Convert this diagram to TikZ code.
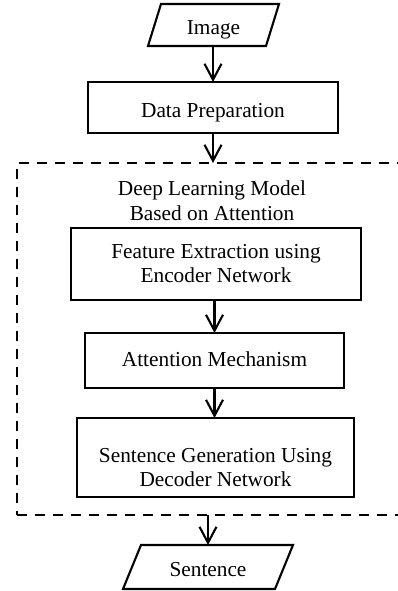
\documentclass[tikz,border=0pt]{standalone}
\usepackage{fontspec}
\setmainfont{Liberation Serif}
\usetikzlibrary{arrows.meta}
\newcommand{\placetxt}[2]{\raisebox{#1}[0pt][0pt]{#2}}
\newcommand{\twolines}[3]{\raisebox{#1}[0pt][0pt]{\begin{tabular}[t]{@{}c@{}}#2\\#3\end{tabular}}}
\begin{document}
\begin{tikzpicture}[x=1pt,y=-1pt,
  every node/.style={font=\fontsize{21.3}{24.4}\selectfont, inner sep=0pt, outer sep=0pt},
  boxst/.style={draw, line width=2.1pt, rectangle, align=center},
  iobase/.style={rectangle},
  iost/.style={draw, line width=2.1pt, line join=miter},
  arr/.style={line width=2.1pt, -{Straight Barb[length=16pt,width=17pt,line width=2.1pt]}},
  dashst/.style={draw, line width=2.1pt, dash pattern=on 10pt off 8pt}]
\useasboundingbox (0,0) rectangle (398,591);
\node[iobase, minimum width=131pt, minimum height=42pt] (img) at (213.5,25) {\placetxt{-10pt}{Image}};
\draw[iost] ([xshift=13pt]img.north west) -- (img.north east) -- ([xshift=-13pt]img.south east) -- (img.south west) -- cycle;
\node[boxst, minimum width=250pt, minimum height=51pt] (prep) at (213,107.5) {\placetxt{-9.8pt}{Data Preparation}};
\begin{scope}
\clip (0,0) rectangle (398,591);
\node[dashst, minimum width=388pt, minimum height=352pt] (model) at (211,339) {};
\end{scope}
\node (lbl) at (212,195) {\fontsize{21.3}{25}\selectfont\twolines{0pt}{Deep Learning Model}{Based on Attention}};
\node[boxst, minimum width=290pt, minimum height=72pt] (feat) at (216,264) {\twolines{5.7pt}{Feature Extraction using}{Encoder Network}};
\node[boxst, minimum width=259pt, minimum height=55pt] (att) at (214.5,360.5) {\placetxt{-6.2pt}{Attention Mechanism}};
\node[boxst, minimum width=277pt, minimum height=79pt] (gen) at (215.5,457.5) {\fontsize{21.3}{23.4}\selectfont\twolines{-5.2pt}{Sentence Generation Using}{Decoder Network}};
\node[iobase, minimum width=170pt, minimum height=44pt] (sent) at (208,567) {\placetxt{-9pt}{Sentence}};
\draw[iost] ([xshift=18pt]sent.north west) -- (sent.north east) -- ([xshift=-18pt]sent.south east) -- (sent.south west) -- cycle;
\draw[arr] (img.south -| prep.north) -- (prep.north);
\draw[arr] (prep.south) -- (prep.south |- model.north);
\draw[arr] (att.north |- feat.south) -- (att.north);
\draw[arr] (att.south) -- (att.south |- gen.north);
\draw[arr] (sent.north |- model.south) -- (sent.north);
\end{tikzpicture}
\end{document}
